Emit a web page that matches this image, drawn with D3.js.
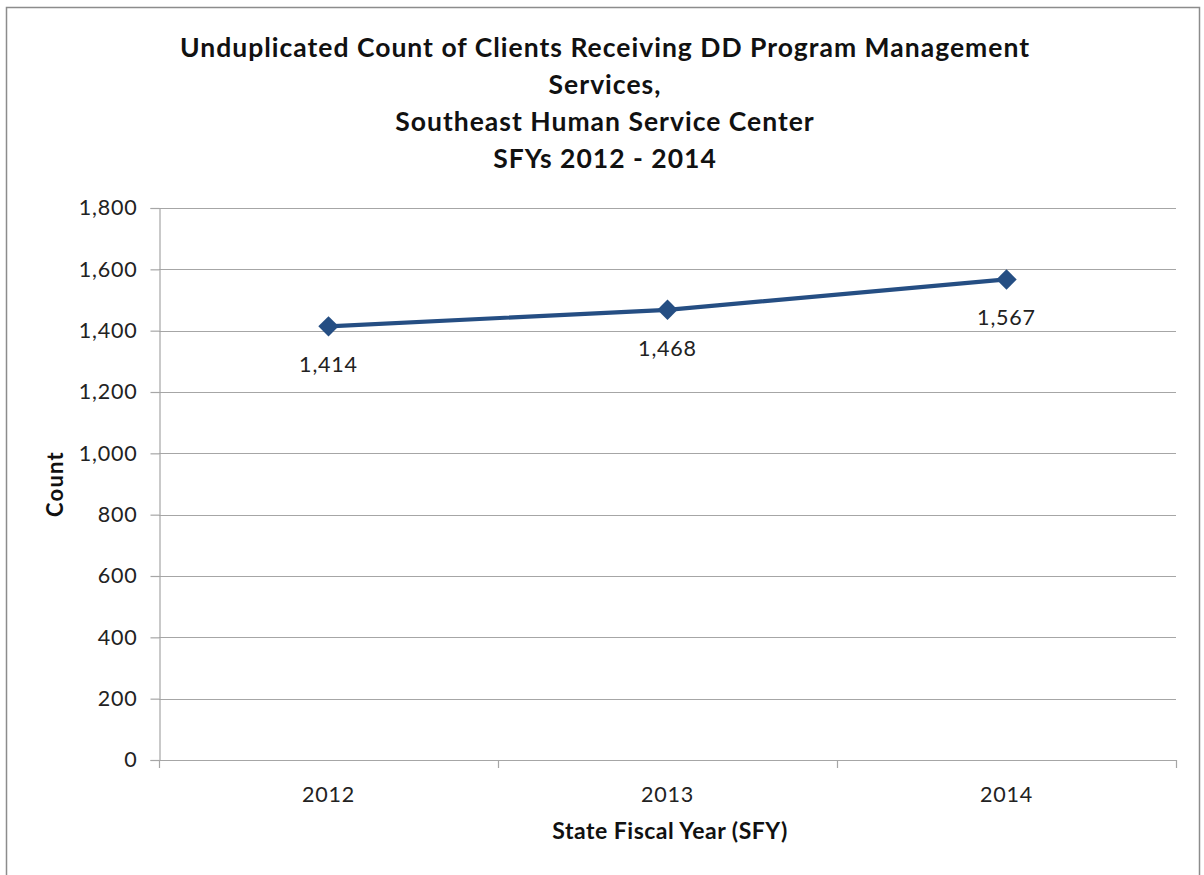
<!DOCTYPE html>
<html><head><meta charset="utf-8">
<script src="https://cdn.jsdelivr.net/npm/d3@7"></script>
<style>body{margin:0;background:#fff}svg{display:block}</style>
</head><body>
<script>
const categories = ["2012", "2013", "2014"];
const counts = [1414, 1468, 1567];
const yTicks = [0, 200, 400, 600, 800, 1000, 1200, 1400, 1600, 1800];
const titleLines = ["Unduplicated Count of Clients Receiving DD Program Management", "Services,", "Southeast Human Service Center", "SFYs 2012 - 2014"];
const xTitle = "State Fiscal Year (SFY)";
const yTitle = "Count";

const W = 1204, H = 875;
const font = "Lato, 'Open Sans', sans-serif";
const numSize = 21.5, numLS = 0.8;
const svg = d3.select("body").append("svg").attr("width", W).attr("height", H);
svg.append("rect").attr("x", 6.5).attr("y", 7.5).attr("width", 1193).attr("height", 880)
  .attr("fill", "#fff").attr("stroke", "#8c8c8c").attr("stroke-width", 1.5);

const L = 159, R = 1176, T = 208, B = 760;
const x = d3.scaleBand().domain(categories).range([L, R]);
const y = d3.scaleLinear().domain([0, 1800]).range([B, T]);

// gridlines
svg.append("g").selectAll("line").data(yTicks).join("line")
  .attr("x1", L).attr("x2", R).attr("y1", d => Math.round(y(d)) + 0.5).attr("y2", d => Math.round(y(d)) + 0.5)
  .attr("stroke", "#a6a6a6").attr("stroke-width", 1.2);

const yAxis = svg.append("g").attr("transform", `translate(${L + 0.5},0)`)
  .call(d3.axisLeft(y).tickValues(yTicks).tickSize(9).tickPadding(13).tickFormat(d3.format(",")));
yAxis.select(".domain").attr("stroke", "#a6a6a6").attr("stroke-width", 1.2);
yAxis.selectAll(".tick line").attr("stroke", "#a6a6a6").attr("stroke-width", 1.2);
yAxis.selectAll("text").attr("font-family", font).attr("font-size", numSize).attr("letter-spacing", numLS).attr("fill", "#222");

const xAxis = svg.append("g").attr("transform", `translate(0,${B + 0.5})`)
  .call(d3.axisBottom(x).tickSize(0).tickPadding(26));
xAxis.select(".domain").remove();
xAxis.selectAll("text").attr("font-family", font).attr("font-size", numSize).attr("letter-spacing", numLS).attr("fill", "#222");
// category boundary ticks
const bounds = categories.map(c => x(c)).concat([x(categories[categories.length - 1]) + x.bandwidth()]);
svg.append("g").selectAll("line").data(bounds).join("line")
  .attr("x1", d => Math.round(d) + 0.5).attr("x2", d => Math.round(d) + 0.5)
  .attr("y1", B).attr("y2", B + 8).attr("stroke", "#a6a6a6").attr("stroke-width", 1.2);

const cx = c => x(c) + x.bandwidth() / 2;
const pts = categories.map((c, i) => [cx(c), y(counts[i])]);
svg.append("path").attr("d", d3.line()(pts)).attr("fill", "none")
  .attr("stroke", "#254E83").attr("stroke-width", 4.2).attr("stroke-linejoin", "round");
svg.append("g").selectAll("path").data(pts).join("path")
  .attr("d", d3.symbol(d3.symbolDiamond2, 265)())
  .attr("transform", d => `translate(${d[0]},${d[1]})`).attr("fill", "#254E83");

svg.append("g").selectAll("text").data(pts).join("text")
  .attr("x", d => d[0]).attr("y", d => d[1] + 46).attr("text-anchor", "middle")
  .attr("font-family", font).attr("font-size", numSize).attr("letter-spacing", numLS).attr("fill", "#222")
  .text((d, i) => d3.format(",")(counts[i]));

svg.append("g").selectAll("text").data(titleLines).join("text")
  .attr("x", 605).attr("y", (d, i) => 57 + i * 37).attr("text-anchor", "middle")
  .attr("font-family", font).attr("font-weight", "bold").attr("font-size", 26.5).attr("letter-spacing", 1)
  .attr("fill", "#111").text(d => d);

svg.append("text").attr("x", 670).attr("y", 839).attr("text-anchor", "middle")
  .attr("font-family", font).attr("font-weight", "bold").attr("font-size", 23).attr("letter-spacing", 0.5)
  .attr("fill", "#111").text(xTitle);
svg.append("text").attr("transform", "translate(63,484) rotate(-90)").attr("text-anchor", "middle")
  .attr("font-family", font).attr("font-weight", "bold").attr("font-size", 22).attr("letter-spacing", 1.2)
  .attr("fill", "#111").text(yTitle);
</script>
</body></html>
